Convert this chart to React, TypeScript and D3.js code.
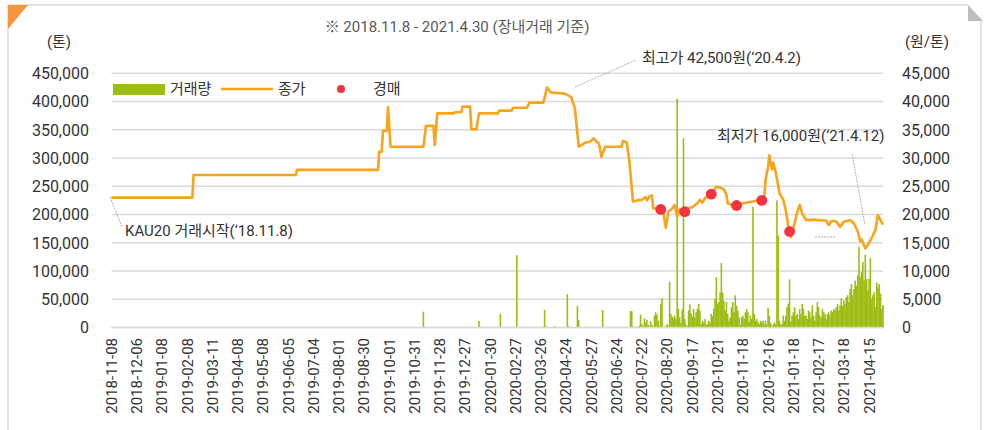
import * as d3 from 'd3'

const W = 987
const H = 430
const FONT = "Roboto, 'Noto Sans CJK KR', sans-serif"
const PLOT = { left: 111.5, right: 883, top: 73.3, bottom: 327.5 }

const GREEN = '#9cbd13'
const ORANGE = '#f8a51b'
const RED = '#f5333f'
const GRID = '#d9d9d9'

// x축: 거래일 순번, 20거래일마다 눈금
const xTickLabels = [
  '2018-11-08', '2018-12-06', '2019-01-08', '2019-02-08', '2019-03-11', '2019-04-08',
  '2019-05-08', '2019-06-05', '2019-07-04', '2019-08-01', '2019-08-30', '2019-10-01',
  '2019-10-31', '2019-11-28', '2019-12-27', '2020-01-30', '2020-02-27', '2020-03-26',
  '2020-04-24', '2020-05-27', '2020-06-24', '2020-07-22', '2020-08-20', '2020-09-17',
  '2020-10-21', '2020-11-18', '2020-12-16', '2021-01-18', '2021-02-17', '2021-03-18',
  '2021-04-15',
]
const TICK_EVERY = 20
const LAST_DAY = 611 // 2021-04-30

const volumeTicks = [0, 50000, 100000, 150000, 200000, 250000, 300000, 350000, 400000, 450000]
const priceTicks = [0, 5000, 10000, 15000, 20000, 25000, 30000, 35000, 40000, 45000]

// 종가 (원/톤): [거래일, 가격]
const closePrice: [number, number][] = [
  [0, 23000], [64, 23000], [65, 27000], [146, 27000], [147, 27900], [211, 27900],
  [212, 31100], [214, 31100], [215, 34800], [218, 34800], [219, 39000], [221, 32000],
  [247, 32000], [249, 35700], [255, 35700], [256, 32300], [258, 37900], [271, 37900],
  [272, 38100], [277, 38100], [278, 39100], [284, 39100], [285, 35100], [289, 35100],
  [291, 37900], [306, 37900], [307, 38400], [317, 38400], [318, 38900], [329, 38900],
  [331, 39800], [342, 39800], [345, 42500], [348, 41600], [359, 41400], [364, 40800],
  [367, 38800], [370, 32000], [375, 32700], [379, 32900], [382, 33500], [384, 32900],
  [386, 32600], [388, 30200], [391, 32000], [404, 32000], [405, 33000], [408, 32800],
  [410, 29700], [413, 22300], [416, 22500], [420, 22600], [423, 23100], [424, 22500],
  [426, 23200], [428, 23400], [429, 21100], [432, 21000], [435, 20900], [437, 20500],
  [439, 17600], [441, 20500], [443, 20800], [446, 21700], [448, 19600], [450, 20900],
  [454, 20500], [457, 21100], [460, 21300], [464, 22000], [466, 22600], [468, 22100],
  [470, 22900], [475, 23600], [479, 24900], [482, 24800], [485, 24400], [487, 23500],
  [488, 22000], [491, 21700], [495, 21600], [500, 22000], [508, 22300], [511, 22500],
  [515, 22500], [517, 23200], [518, 26100], [520, 28500], [521, 30500], [523, 28000],
  [524, 29200], [526, 27500], [529, 23800], [532, 22600], [534, 20800], [536, 18000],
  [537, 17000], [538, 16000], [540, 17500], [543, 20400], [545, 21700], [547, 20200],
  [550, 19000], [556, 19100], [561, 19000], [566, 18900], [568, 18100], [570, 18800],
  [573, 18900], [575, 18500], [577, 17800], [580, 18700], [585, 19000], [588, 18400],
  [591, 17000], [593, 15200], [594, 15600], [597, 14000], [599, 14600], [602, 15800],
  [605, 17300], [607, 19900], [609, 19000], [611, 18200],
]

// 경매 낙찰가
const auctionPrice: [number, number][] = [
  [435, 20900], [454, 20500], [475, 23600], [495, 21600], [515, 22500], [537, 17000],
]

// 거래량 (톤): 2020년 7월 이전은 드문드문
const earlyVolume: [number, number][] = [
  [247, 28000], [256, 300], [291, 11500], [308, 24000], [321, 128000], [343, 31000],
  [344, 2600], [351, 2600], [361, 59000], [362, 2600], [366, 500], [369, 38000],
  [370, 13000], [389, 31000], [396, 500],
]

// 거래일 411부터 매일 (천톤)
const DENSE_START = 411
const denseVolumeK = [
  29, 29, 2, 0, 1, 0, 0, 3, 23, 6,
  2, 16, 9, 14, 5, 2, 11, 5, 0, 21,
  27, 23, 12, 3, 42, 52, 1, 0, 2, 6,
  3, 81, 24, 19, 17, 21, 15, 405, 33, 18,
  8, 32, 335, 15, 5, 2, 30, 41, 25, 19,
  33, 18, 27, 33, 42, 30, 6, 12, 9, 15,
  5, 6, 12, 9, 24, 20, 33, 51, 89, 42,
  45, 62, 114, 62, 47, 30, 45, 24, 12, 18,
  36, 45, 27, 57, 39, 30, 18, 5, 18, 21,
  15, 27, 33, 27, 10, 21, 15, 214, 24, 12,
  15, 9, 6, 12, 9, 12, 6, 12, 5, 35,
  21, 8, 3, 5, 9, 6, 225, 163, 12, 6,
  6, 21, 12, 21, 36, 42, 85, 10, 21, 27,
  36, 21, 24, 15, 33, 24, 42, 33, 21, 21,
  15, 30, 27, 18, 39, 21, 12, 27, 45, 36,
  21, 18, 33, 27, 24, 15, 24, 27, 21, 30,
  27, 33, 30, 36, 42, 30, 39, 52, 39, 48,
  42, 54, 57, 45, 68, 77, 57, 68, 83, 74,
  92, 143, 89, 98, 116, 83, 129, 86, 65, 86,
  123, 51, 57, 62, 36, 80, 71, 77, 60, 33, 40,
]

export default function App() {
  const x = d3.scaleLinear().domain([0, LAST_DAY]).range([PLOT.left, PLOT.right])
  const yVol = d3.scaleLinear().domain([0, 450000]).range([PLOT.bottom, PLOT.top])
  const yPrice = d3.scaleLinear().domain([0, 45000]).range([PLOT.bottom, PLOT.top])
  const fmt = d3.format(',')

  const volume: [number, number][] = [
    ...earlyVolume,
    ...denseVolumeK.map((v, i) => [DENSE_START + i, v * 1000] as [number, number]),
  ]

  const line = d3.line<[number, number]>()
    .x(d => x(d[0]))
    .y(d => yPrice(d[1]))

  const barW = 1.6

  return (
    <svg width={W} height={H} style={{ position: 'absolute', left: 0, top: 0, fontFamily: FONT }}>
      <rect x={0} y={0} width={W} height={H} fill="#fff" />
      {/* frame */}
      <path d={`M8,440 V5 H968`} fill="none" stroke="#dcdcdc" strokeWidth={1.5} />
      <path d={`M981,21 V440`} fill="none" stroke="#dcdcdc" strokeWidth={1.5} />
      <path d="M968,5 L968,21 L983,21 Z" fill="#bdbdbd" />
      <path d="M8,5 L28,5 L8,29 Z" fill="#f7943c" />

      <text x={457} y={32} textAnchor="middle" fontSize={15} fill="#595959">
        ※ 2018.11.8 - 2021.4.30 (장내거래 기준)
      </text>
      <text x={59} y={47} textAnchor="middle" fontSize={15} fill="#333">(톤)</text>
      <text x={927} y={47} textAnchor="middle" fontSize={15} fill="#333">(원/톤)</text>

      {/* grid + y axes */}
      {volumeTicks.map(t => (
        <g key={t}>
          <line x1={PLOT.left} x2={PLOT.right} y1={yVol(t)} y2={yVol(t)} stroke={GRID} strokeWidth={1.6} />
          <text x={89} y={yVol(t)} dy="0.36em" textAnchor="end" fontSize={16} fill="#333">{fmt(t)}</text>
        </g>
      ))}
      {priceTicks.map(t => (
        <text key={t} x={902} y={yPrice(t)} dy="0.36em" textAnchor="start" fontSize={16} fill="#333">{fmt(t)}</text>
      ))}

      {/* x labels */}
      {xTickLabels.map((lab, i) => {
        const xi = x(i * TICK_EVERY)
        return (
          <text key={lab} transform={`translate(${xi},338) rotate(-90)`} dy="0.36em"
            textAnchor="end" fontSize={15} fill="#333">{lab}</text>
        )
      })}

      {/* volume bars */}
      {volume.map(([i, v]) => (
        <rect key={i} x={x(i) - barW / 2} width={barW} y={yVol(v)} height={yVol(0) - yVol(v)} fill={GREEN} />
      ))}

      {/* close price */}
      <path d={line(closePrice) ?? ''} fill="none" stroke={ORANGE} strokeWidth={2.6} strokeLinejoin="round" />

      {/* auctions */}
      {auctionPrice.map(([i, p]) => (
        <circle key={i} cx={x(i)} cy={yPrice(p)} r={5.4} fill={RED} />
      ))}

      {/* annotations */}
      <line x1={575} y1={87} x2={636} y2={60} stroke="#9a9a9a" strokeWidth={0.8} strokeDasharray="2,1" />
      <text x={642} y={63} fontSize={15} fill="#333">최고가 42,500원(‘20.4.2)</text>
      <line x1={852} y1={154} x2={865} y2={225} stroke="#9a9a9a" strokeWidth={0.8} strokeDasharray="2,1" />
      <text x={717} y={141} fontSize={15} fill="#333">최저가 16,000원(‘21.4.12)</text>
      <line x1={110} y1={197} x2={122} y2={227} stroke="#9a9a9a" strokeWidth={0.8} strokeDasharray="2,1" />
      <text x={125} y={236} fontSize={15} fill="#333">KAU20 거래시작(‘18.11.8)</text>
      <line x1={815} y1={237} x2={836} y2={237} stroke="#9a9a9a" strokeWidth={0.8} strokeDasharray="2,1" />

      {/* legend */}
      <rect x={113} y={84} width={52} height={11} fill={GREEN} />
      <text x={170} y={94} fontSize={15} fill="#333">거래량</text>
      <line x1={221} x2={273} y1={89} y2={89} stroke={ORANGE} strokeWidth={2.6} />
      <text x={278} y={94} fontSize={15} fill="#333">종가</text>
      <circle cx={341} cy={89} r={4} fill={RED} />
      <text x={373} y={94} fontSize={15} fill="#333">경매</text>

      {/* x baseline */}
      <line x1={PLOT.left} x2={PLOT.right} y1={PLOT.bottom} y2={PLOT.bottom} stroke={GRID} strokeWidth={1.6} />
    </svg>
  )
}
